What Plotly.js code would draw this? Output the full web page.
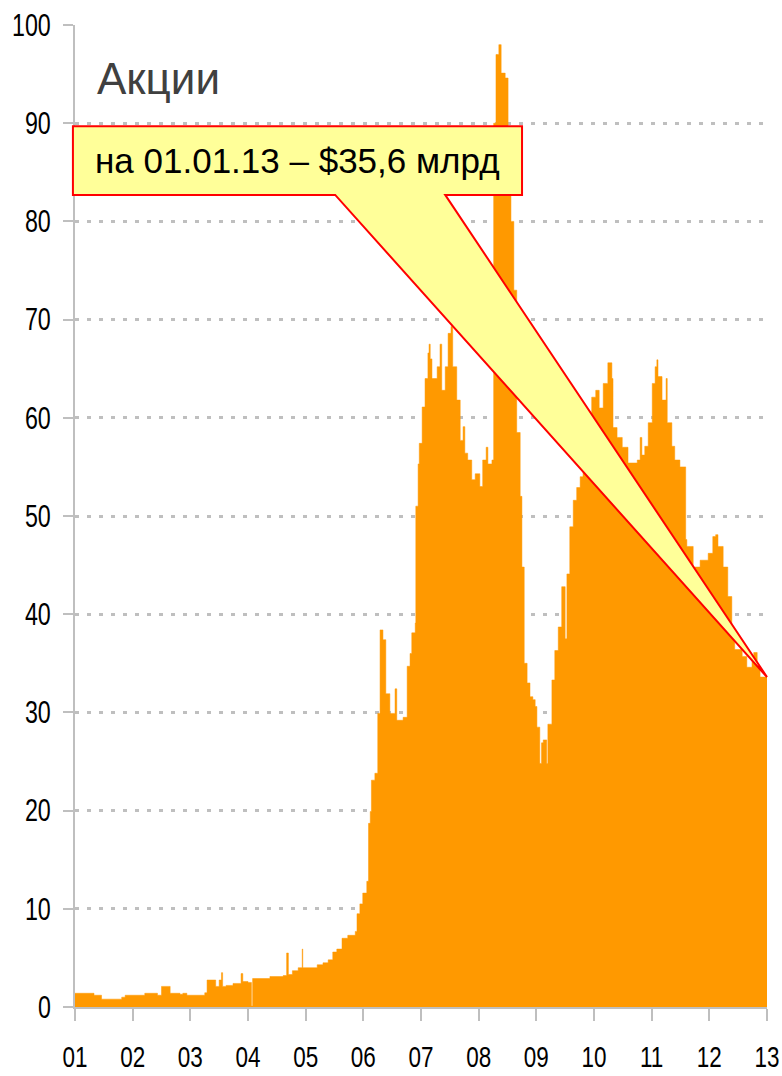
<!DOCTYPE html>
<html><head><meta charset="utf-8">
<script src="https://cdn.plot.ly/plotly-3.0.1.min.js"></script>
<style>html,body{margin:0;padding:0;background:#fff}</style>
</head><body><div id="chart" style="width:782px;height:1076px"></div>
<script>
// Dates as decimal years, values in $ bn
const years = [
2001.00,2001.33,2001.46,2001.81,2001.87,2002.21,2002.43,2002.50,2002.65,2002.82,2002.87,2002.94,
2003.25,2003.29,2003.44,2003.50,2003.54,2003.56,2003.62,2003.74,2003.88,2003.91,2004.00,2004.06,
2004.08,2004.38,2004.61,2004.67,2004.70,2004.77,2004.87,2004.94,2004.95,2005.20,2005.30,2005.39,
2005.47,2005.54,2005.63,2005.73,2005.86,2005.89,2005.94,2005.99,2006.06,2006.09,2006.12,2006.14,
2006.20,2006.25,2006.29,2006.34,2006.39,2006.46,2006.55,2006.58,2006.69,2006.76,2006.81,2006.84,
2006.90,2006.91,2006.95,2006.97,2007.02,2007.07,2007.12,2007.14,2007.16,2007.19,2007.28,2007.33,
2007.36,2007.42,2007.47,2007.52,2007.55,2007.62,2007.68,2007.73,2007.76,2007.81,2007.88,2007.94,
2008.02,2008.07,2008.13,2008.16,2008.23,2008.26,2008.30,2008.35,2008.39,2008.46,2008.51,2008.56,
2008.61,2008.66,2008.72,2008.75,2008.79,2008.84,2008.89,2008.94,2008.98,2009.01,2009.06,2009.09,
2009.12,2009.18,2009.20,2009.27,2009.32,2009.38,2009.44,2009.50,2009.53,2009.58,2009.64,2009.70,
2009.76,2009.81,2009.86,2009.91,2009.96,2010.03,2010.09,2010.16,2010.24,2010.31,2010.33,2010.40,
2010.49,2010.59,2010.75,2010.80,2010.83,2010.88,2010.94,2011.01,2011.06,2011.09,2011.11,2011.18,
2011.25,2011.27,2011.35,2011.40,2011.49,2011.59,2011.61,2011.72,2011.84,2011.98,2012.06,2012.11,
2012.15,2012.24,2012.32,2012.39,2012.44,2012.57,2012.65,2012.74,2012.77,2012.83,2012.88,2013.00
];
const values = [
1.4,1.2,0.8,1.0,1.2,1.4,1.2,2.1,1.4,1.3,1.4,1.2,
1.45,2.75,2.1,2.75,3.5,2.1,2.2,2.4,3.4,2.6,2.5,0.1,
2.9,3.1,3.2,5.5,3.3,3.7,4.0,5.9,4.0,4.3,4.5,4.8,
5.6,5.9,7.0,7.3,7.7,9.5,10.5,11.6,12.8,18.7,19.9,23.1,
23.8,29.9,38.4,37.4,31.9,29.9,32.4,29.2,29.5,34.7,36.0,38.1,
39.1,51.0,55.3,57.4,61.1,64.0,66.6,67.5,66.0,64.0,65.2,67.5,
62.8,65.2,68.6,69.3,65.2,61.8,57.7,59.1,56.4,55.7,53.7,54.3,
53.0,55.7,57.0,55.3,55.7,90.0,97.0,98.0,95.1,94.6,85.0,80.0,
73.0,58.5,52.0,44.8,35.0,33.0,31.6,31.3,30.6,28.5,24.8,26.9,
27.2,24.8,28.8,33.3,36.3,38.7,42.8,37.5,44.1,48.9,51.6,52.9,
54.0,56.0,58.0,60.0,62.1,62.8,61.0,63.5,65.6,64.0,59.0,58.0,
57.0,55.4,55.7,58.0,56.2,57.1,59.5,63.5,65.2,65.9,64.2,61.8,
64.0,59.5,57.1,55.7,55.0,47.6,46.9,44.8,45.5,46.2,47.9,48.1,
46.9,44.8,41.8,38.1,36.4,35.7,34.6,35.7,36.1,34.6,33.6,33.6
];
const tickYears = [2001,2002,2003,2004,2005,2006,2007,2008,2009,2010,2011,2012,2013];
const tickLabels = ['01','02','03','04','05','06','07','08','09','10','11','12','13'];
const yTicks = [0,10,20,30,40,50,60,70,80,90,100];
const chartTitle = 'Акции';
const calloutText = 'на 01.01.13 – $35,6 млрд';

const xMin = 2001, xMax = 2013, yMin = 0, yMax = 100;
const sans = '"Liberation Sans", Arial, sans-serif';
const grey = '#BFBFBF';

// callout tip at last data point, expressed in paper coords
const lastX = years[years.length - 1], lastY = values[values.length - 1];
const tipX = (lastX - xMin) / (xMax - xMin);
const tipY = (lastY - yMin) / (yMax - yMin);
const bx0 = -0.003, bx1 = 0.646, byTop = 0.897, byBot = 0.827, pb1 = 0.376, pb2 = 0.535;
const calloutPath = `M ${bx0},${byTop} L ${bx1},${byTop} L ${bx1},${byBot} L ${pb2},${byBot} L ${tipX},${tipY} L ${pb1},${byBot} L ${bx0},${byBot} Z`;

const trace = {
  x: years, y: values, type: 'scatter', mode: 'lines',
  line: {shape: 'hv', width: 0.5, color: '#FF9900'},
  fill: 'tozeroy', fillcolor: '#FF9900', hoverinfo: 'skip'
};

const layout = {
  width: 782, height: 1076,
  margin: {l: 75, r: 15, t: 25, b: 69},
  paper_bgcolor: '#fff', plot_bgcolor: '#fff',
  showlegend: false,
  xaxis: {
    range: [xMin, xMax], tickmode: 'array', tickvals: tickYears, ticktext: tickLabels,
    showgrid: false, zeroline: false, showline: true, linecolor: grey, linewidth: 2,
    ticks: 'outside', ticklen: 12, tickwidth: 2, tickcolor: grey,
    ticklabelstandoff: 10, ticklabeloverflow: 'allow',
    tickfont: {family: sans, size: 30, color: '#000'}
  },
  yaxis: {
    range: [yMin, yMax], tickmode: 'array', tickvals: yTicks,
    showgrid: true, gridcolor: grey, gridwidth: 3, griddash: '4px,8px',
    zeroline: false, showline: true, linecolor: grey, linewidth: 2,
    ticks: 'outside', ticklen: 10, tickwidth: 2, tickcolor: grey,
    ticklabelstandoff: 6, ticklabeloverflow: 'allow',
    tickfont: {family: sans, size: 31, color: '#000'}
  },
  shapes: [{
    type: 'path', xref: 'paper', yref: 'paper', path: calloutPath,
    fillcolor: '#FFFF99', line: {color: '#FF0000', width: 2}, layer: 'above'
  }],
  annotations: [
    {xref: 'paper', yref: 'paper', x: 0.029, y: 0.946, xanchor: 'left', yanchor: 'middle',
     text: chartTitle, showarrow: false, font: {family: sans, size: 44, color: '#404040'}},
    {xref: 'paper', yref: 'paper', x: 0.321, y: 0.862, xanchor: 'center', yanchor: 'middle',
     text: calloutText, showarrow: false, font: {family: sans, size: 35, color: '#000'}}
  ]
};

Plotly.newPlot('chart', [trace], layout, {staticPlot: true, displayModeBar: false}).then(gd => {
  // condense tick label glyphs (reference uses a narrow face)
  gd.querySelectorAll('.xtick text, .ytick text').forEach(t => {
    const L = t.getComputedTextLength();
    t.setAttribute('textLength', (L * 0.75).toFixed(1));
    t.setAttribute('lengthAdjust', 'spacingAndGlyphs');
  });
});
</script>
</body></html>
